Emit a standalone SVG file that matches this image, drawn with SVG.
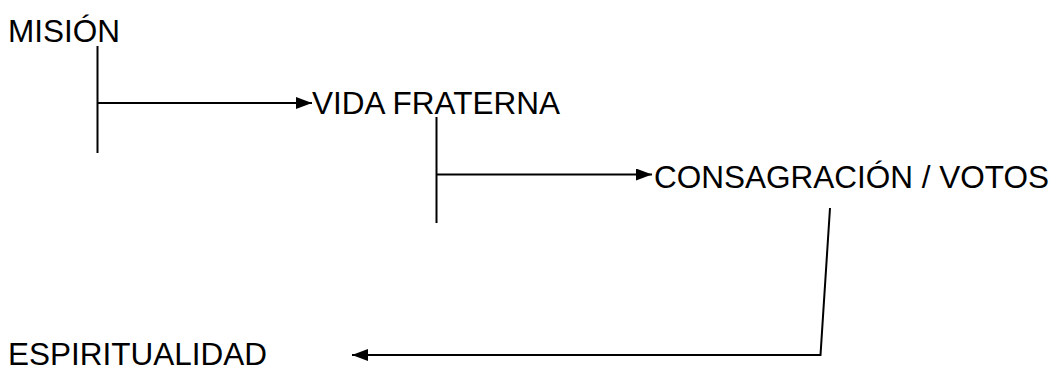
<svg xmlns="http://www.w3.org/2000/svg" width="1056" height="372" viewBox="0 0 1056 372">
  <style>
    .label { font-family: "Liberation Sans", Arial, sans-serif; font-size: 31.5px; fill: #000; }
    .line { fill: none; stroke: #000; stroke-width: 2; }
  </style>
  <defs>
    <marker id="arrow" markerUnits="userSpaceOnUse" markerWidth="16" markerHeight="12" refX="16" refY="6" orient="auto">
      <path d="M0,0 L16,6 L0,12 Z" fill="#000"/>
    </marker>
  </defs>
  <rect width="1056" height="372" fill="#fff"/>

  <g id="connectors">
    <!-- stem under MISIÓN and branch to VIDA FRATERNA -->
    <line class="line" x1="97.5" y1="46" x2="97.5" y2="153"/>
    <line class="line" x1="97.5" y1="103" x2="312" y2="103" marker-end="url(#arrow)"/>
    <!-- stem under VIDA FRATERNA and branch to CONSAGRACIÓN / VOTOS -->
    <line class="line" x1="436.5" y1="117" x2="436.5" y2="223"/>
    <line class="line" x1="436.5" y1="174.5" x2="652" y2="174.5" marker-end="url(#arrow)"/>
    <!-- return from CONSAGRACIÓN / VOTOS to ESPIRITUALIDAD -->
    <polyline class="line" points="830,208 820.5,355 352,355" marker-end="url(#arrow)"/>
  </g>

  <g id="mision">
    <text class="label" x="8" y="42">MISIÓN</text>
  </g>
  <g id="vida-fraterna">
    <text class="label" x="312" y="114">VIDA FRATERNA</text>
  </g>
  <g id="consagracion">
    <text class="label" x="654" y="188">CONSAGRACIÓN / VOTOS</text>
  </g>
  <g id="espiritualidad">
    <text class="label" x="8" y="365">ESPIRITUALIDAD</text>
  </g>
</svg>
